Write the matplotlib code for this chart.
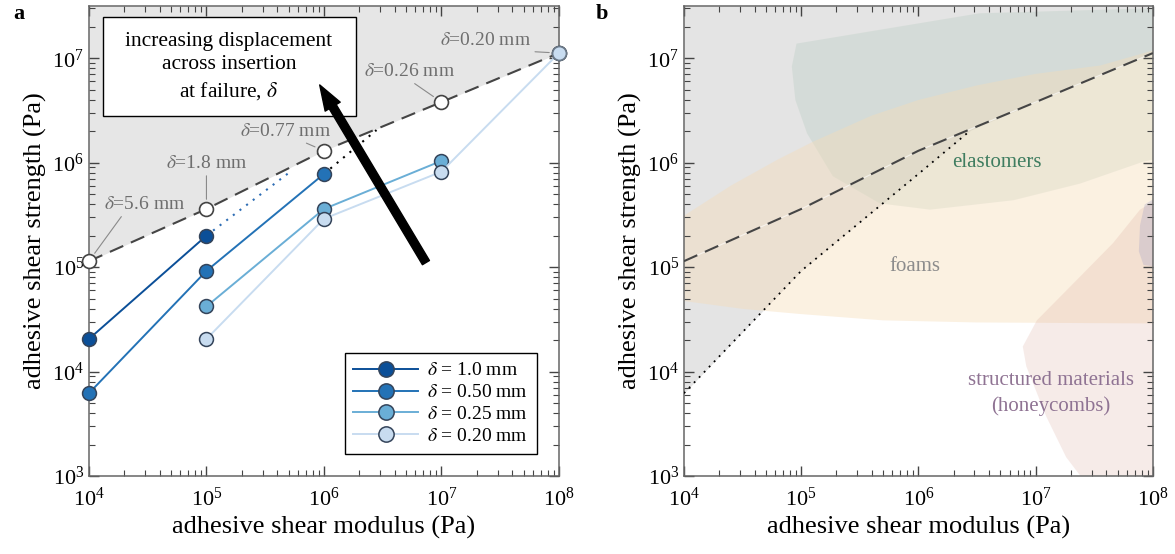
import numpy as np
import matplotlib
matplotlib.use('Agg')
import matplotlib.pyplot as plt
from matplotlib.patches import Rectangle

plt.rcParams['font.family'] = ['Liberation Serif', 'DejaVu Serif']
plt.rcParams['mathtext.fontset'] = 'stix'

# --- data ---
modulus = [1e4, 1e5, 1e6, 1e7, 1e8]
limit_strength = [1.14e5, 3.6e5, 1.3e6, 3.8e6, 1.12e7]
limit_delta = ['5.6', '1.8', '0.77', '0.26', '0.20']
# label offsets (points) from each open circle, and where the leader leaves the text
limit_offsets = [(40, 41), (0, 33), (-28, 14), (-23, 22), (-53, 9)]
limit_relpos = [(0.25, 0.0), (0.5, 0.0), (0.65, 0.0), (0.5, 0.0), (0.15, 0.1)]

series_labels = ['1.0', '0.50', '0.25', '0.20']
series_x = [[1e4, 1e5], [1e4, 1e5, 1e6], [1e5, 1e6, 1e7], [1e5, 1e6, 1e7, 1e8]]
series_y = [[2.05e4, 2.0e5], [6.2e3, 9.2e4, 7.8e5], [4.2e4, 3.6e5, 1.04e6],
            [2.05e4, 2.9e5, 8.2e5, 1.12e7]]
series_colors = ['#0b4f98', '#2372b6', '#6aaed6', '#c8dcf0']

# dotted extrapolations up to the dashed limit
ext_blue_x = [1e5, 5.4e5]
ext_blue_y = [2.0e5, 8.5e5]
ext_black_x = [1e6, 2.8e6]
ext_black_y = [7.8e5, 2.05e6]

# material regions (log10 modulus, log10 strength)
elastomer_lx = [4.96, 4.92, 4.95, 5.05, 5.27, 5.67, 6.10, 6.81, 7.38, 7.92, 8.05, 8.05, 6.52]
elastomer_ly = [7.14, 6.92, 6.60, 6.28, 5.87, 5.61, 5.55, 5.64, 5.80, 6.01, 6.04, 7.48, 7.43]
foam_lx = [3.9, 4.4, 4.8, 5.1, 5.6, 6.0, 6.5, 7.0, 7.55, 8.05, 8.05, 6.5, 5.7, 5.0, 4.5, 3.9]
foam_ly = [5.42, 5.78, 6.03, 6.20, 6.45, 6.60, 6.74, 6.85, 6.93, 7.09,
           4.46, 4.47, 4.49, 4.55, 4.60, 4.69]
struct_lx = [6.89, 7.01, 7.38, 7.66, 7.89, 8.05, 8.05, 7.45, 7.26, 7.09, 6.92]
struct_ly = [4.24, 4.49, 4.91, 5.23, 5.55, 5.66, 2.9, 2.9, 3.18, 3.57, 4.05]
other_lx = [8.05, 7.93, 7.89, 7.88, 7.92, 8.05]
other_ly = [5.68, 5.60, 5.40, 5.15, 5.02, 5.00]

xlim = (1e4, 1e8)
ylim = (1e3, 10 ** 7.5)

fig = plt.figure(figsize=(11.75, 5.54), dpi=100)
ax1 = fig.add_axes([0.0757, 0.1408, 0.4, 0.8484])
ax2 = fig.add_axes([0.5821, 0.1408, 0.3991, 0.8484])


def style_axes(ax):
    ax.set_xscale('log')
    ax.set_yscale('log')
    ax.set_xlim(*xlim)
    ax.set_ylim(*ylim)
    ax.tick_params(which='both', direction='in', top=True, right=True,
                   color='#444444', labelsize=16)
    ax.tick_params(which='major', length=7, width=1)
    ax.tick_params(which='minor', length=4, width=0.8)
    ax.tick_params(axis='x', pad=8)
    for s in ax.spines.values():
        s.set_color('#666666')
        s.set_linewidth(1.1)
    ax.set_xlabel('adhesive shear modulus (Pa)', fontsize=19, labelpad=4)
    ax.set_ylabel('adhesive shear strength (Pa)', fontsize=19, labelpad=4)


# ---------------- panel a ----------------
style_axes(ax1)
ax1.fill_between(modulus, limit_strength, ylim[1], color='#e6e6e6', lw=0, zorder=0)
ax1.plot(modulus, limit_strength, color='#454545', lw=1.5, ls=(0, (7, 4)), zorder=2)
ax1.plot(ext_blue_x, ext_blue_y, color='#2e6db4', lw=1.5, ls=(0, (1, 3)), zorder=2)
ax1.plot(ext_black_x, ext_black_y, color='black', lw=1.5, ls=(0, (1, 3)), zorder=2)

for xs, ys, c, lab in zip(series_x, series_y, series_colors, series_labels):
    ax1.plot(xs, ys, color=c, lw=1.4, marker='o', ms=10, mfc=c, mec='#34445a',
             mew=1.1, label=r'$\delta$ = ' + lab + ' mm', zorder=4, clip_on=False)

ax1.plot(modulus, limit_strength, ls='none', marker='o', ms=10, mfc='white',
         mec='#444444', mew=1.2, zorder=5, clip_on=False)
# last open circle is shared with the 0.20 mm series
ax1.plot(series_x[3][-1:], series_y[3][-1:], ls='none', marker='o', ms=10,
         mfc=series_colors[3], mec='#6a7888', mew=1.2, zorder=6, clip_on=False)

for x, y, d, off, rp in zip(modulus, limit_strength, limit_delta, limit_offsets, limit_relpos):
    ax1.annotate(r'$\delta$=' + d + ' mm', xy=(x, y), xytext=off, textcoords='offset points',
                 ha='center', va='center', fontsize=14, color='#6e6e6e', zorder=7,
                 arrowprops=dict(arrowstyle='-', color='#8a8a8a', lw=0.8,
                                 shrinkA=1, shrinkB=7, relpos=rp))

leg = ax1.legend(loc='lower right', bbox_to_anchor=(0.953, 0.047), fontsize=14,
                 frameon=True, fancybox=False, edgecolor='black', framealpha=1,
                 handlelength=3.3, borderaxespad=0, labelspacing=0.22,
                 handletextpad=0.5, borderpad=0.45, markerscale=1.1)
leg.get_frame().set_linewidth(1.0)
leg.set_zorder(8)

ax1.add_patch(Rectangle((0.030, 0.766), 0.538, 0.2095, transform=ax1.transAxes,
                        facecolor='white', edgecolor='black', lw=1.0, zorder=8))
ax1.text(0.298, 0.871, 'increasing displacement\nacross insertion\nat failure, $\\delta$',
         transform=ax1.transAxes, ha='center', va='center', fontsize=15.5,
         linespacing=1.33, zorder=9)
ax1.annotate('', xy=(0.491, 0.832), xytext=(0.717, 0.454), xycoords='axes fraction',
             textcoords='axes fraction', zorder=10,
             arrowprops=dict(arrowstyle='simple,head_length=1.3,head_width=0.9,tail_width=0.42',
                             mutation_scale=14, color='black', shrinkA=0, shrinkB=0))

# ---------------- panel b ----------------
style_axes(ax2)
dot_x = series_x[1] + ext_black_x[1:]
dot_y = series_y[1] + ext_black_y[1:]
bound_x = dot_x + modulus[3:]
bound_y = dot_y + limit_strength[3:]
ax2.fill_between(bound_x, bound_y, ylim[1], color='#e4e4e4', lw=0, zorder=0)

ax2.fill(10 ** np.array(elastomer_lx), 10 ** np.array(elastomer_ly), color='#aec7b9', alpha=0.28, lw=0, zorder=1)
ax2.fill(10 ** np.array(foam_lx), 10 ** np.array(foam_ly), color='#f6dcb6', alpha=0.40, lw=0, zorder=1)
ax2.fill(10 ** np.array(struct_lx), 10 ** np.array(struct_ly), color='#d9a69a', alpha=0.22, lw=0, zorder=1)
ax2.fill(10 ** np.array(other_lx), 10 ** np.array(other_ly), color='#9a9ac4', alpha=0.28, lw=0, zorder=1)

ax2.plot(modulus, limit_strength, color='white', lw=0.8, alpha=0.6, zorder=2)
ax2.plot(modulus, limit_strength, color='#454545', lw=1.5, ls=(0, (7, 4)), zorder=3)
ax2.plot(dot_x, dot_y, color='black', lw=1.3, ls=(0, (1, 3)), zorder=3)

ax2.text(10 ** 6.67, 10 ** 6.0, 'elastomers', ha='center', va='center', fontsize=15, color='#3f7d60')
ax2.text(10 ** 5.97, 10 ** 5.01, 'foams', ha='center', va='center', fontsize=15, color='#8c8c8c')
ax2.text(10 ** 7.13, 10 ** 3.79, 'structured materials\n(honeycombs)', ha='center', va='center',
         fontsize=15, color='#8f7393', linespacing=1.4)

fig.text(0.011, 0.975, 'a', fontsize=16, fontweight='bold', va='center')
fig.text(0.507, 0.975, 'b', fontsize=16, fontweight='bold', va='center')

fig.savefig('out.png', dpi=100)
